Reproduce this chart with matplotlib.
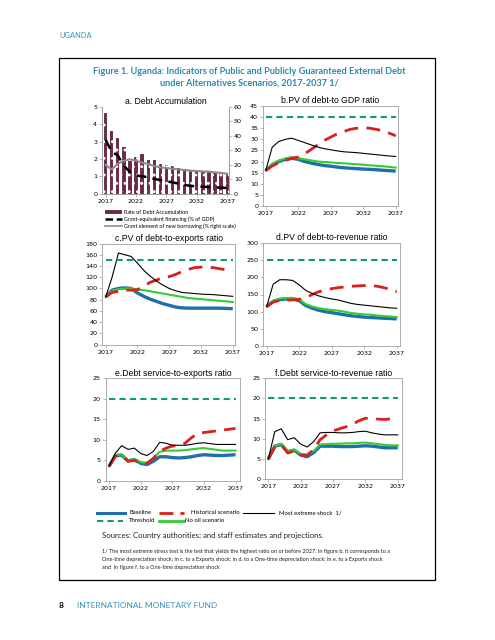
import matplotlib
matplotlib.use("Agg")
import matplotlib.pyplot as plt
import numpy as np
from matplotlib.patches import Rectangle

years = list(range(2017, 2038))

# a. Debt Accumulation
debt_accum = [4.66, 3.6, 3.2, 2.7, 1.9, 2.1, 2.3, 1.96, 1.92, 1.7, 1.65, 1.59, 1.5,
              1.4, 1.32, 1.28, 1.27, 1.27, 1.23, 1.18, 1.16]
grant_equiv = [3.1, 2.4, 2.2, 1.6, 1.25, 1.05, 1.0, 0.95, 0.85, 0.78, 0.72, 0.65, 0.58,
               0.5, 0.45, 0.42, 0.4, 0.38, 0.36, 0.35, 0.33]
grant_element = [19.8, 16.8, 20.5, 22.8, 23.7, 22.8, 21.4, 20.5, 19.0, 18.2, 17.7, 17.2,
                 16.8, 16.3, 15.9, 15.6, 15.4, 15.2, 14.7, 14.3, 13.8]

# b. PV of debt-to-GDP ratio
b_base = [16, 18.5, 20, 21, 21.5, 21, 20, 19.3, 18.7, 18.2, 17.9, 17.5, 17.2, 17, 16.8,
          16.6, 16.5, 16.3, 16.1, 15.9, 15.7]
b_nooil = [16, 19, 20.5, 21.3, 22, 21.5, 21, 20.5, 20, 19.8, 19.6, 19.4, 19.2, 19, 18.8,
           18.6, 18.3, 18.1, 17.9, 17.6, 17.3]
b_hist = [16, 18, 19.5, 20.5, 21.5, 22, 23.5, 25.5, 27.5, 29.5, 31, 32.5, 33.5, 34.5, 35,
          35.2, 35, 34.5, 33.8, 32.8, 31.6]
b_shock = [16, 26.5, 29, 30, 30.5, 29.5, 28.5, 27.5, 26.5, 25.8, 25.3, 24.8, 24.4, 24.2,
           24, 23.7, 23.4, 23.1, 22.8, 22.5, 22.3]
b_thr = 40

# c. PV of debt-to-exports ratio
c_base = [85, 97, 100, 101, 100, 92, 86, 81, 77, 73, 70, 67, 65.5, 65, 65, 65, 65, 65, 65,
          64.5, 64]
c_nooil = [85, 96, 99, 100, 100, 98, 97, 95, 93, 91, 89, 87, 85, 83, 82, 81, 80, 79, 78, 77, 76]
c_hist = [85, 93, 95, 97, 97, 98, 104, 111, 115, 119, 121, 125, 130, 134, 137, 138, 138,
          137, 135, 133, 131]
c_shock = [85, 120, 163, 160, 157, 145, 132, 122, 113, 106, 100, 96, 93, 92, 91, 90, 89.5,
           89, 88, 87, 86]
c_thr = 150

# d. PV of debt-to-revenue ratio
d_base = [115, 130, 135, 137, 137, 132, 118, 110, 104, 100, 97, 94, 91, 88, 86, 84, 83, 82,
          81, 80, 79]
d_nooil = [115, 132, 138, 140, 140, 136, 122, 115, 110, 107, 105, 103, 100, 96, 94, 92, 91,
           89, 87, 86, 84]
d_hist = [115, 128, 133, 134, 134, 136, 140, 150, 158, 163, 167, 170, 172, 174, 175, 176,
          176, 174, 170, 165, 158]
d_shock = [115, 180, 193, 193, 191, 178, 162, 153, 146, 141, 137, 134, 129, 124, 121, 119,
           117, 115, 113, 111, 110]
d_thr = 250

# e. Debt service-to-exports ratio
e_base = [3.6, 6.2, 6.3, 4.9, 5.2, 4.3, 4.0, 4.8, 5.9, 5.9, 5.7, 5.6, 5.7, 5.9, 6.2, 6.4,
          6.3, 6.2, 6.2, 6.3, 6.4]
e_nooil = [3.6, 6.3, 6.5, 5.0, 5.4, 4.6, 4.4, 5.6, 7.1, 7.4, 7.4, 7.4, 7.5, 7.7, 7.9, 8.0,
           7.8, 7.6, 7.4, 7.4, 7.4]
e_hist = [3.6, 6.0, 6.2, 4.8, 5.0, 4.3, 4.3, 5.5, 7.2, 8.0, 8.5, 8.7, 9.2, 10.5, 11.6,
          11.8, 12.0, 12.2, 12.4, 12.6, 12.8]
e_shock = [3.6, 6.8, 8.6, 7.7, 8.0, 6.7, 6.2, 7.2, 9.4, 9.2, 8.7, 8.7, 8.7, 8.9, 9.2, 9.3,
           9.1, 8.9, 8.9, 8.9, 8.9]
e_thr = 20

# f. Debt service-to-revenue ratio
f_base = [5.0, 8.2, 8.6, 6.8, 7.2, 6.0, 5.6, 6.6, 8.2, 8.2, 8.2, 8.1, 8.1, 8.1, 8.2, 8.3,
          8.2, 8.0, 7.8, 7.8, 7.8]
f_nooil = [5.0, 8.3, 8.8, 7.0, 7.4, 6.3, 6.0, 7.0, 8.6, 8.7, 8.8, 8.8, 8.9, 8.9, 9.0, 9.1,
           8.9, 8.7, 8.5, 8.4, 8.4]
f_hist = [5.0, 8.0, 8.5, 6.5, 7.0, 6.0, 6.0, 7.3, 9.8, 11.0, 12.0, 12.5, 13.0, 13.6, 14.5,
          15.1, 15.0, 14.9, 14.8, 15.0, 15.2]
f_shock = [5.0, 11.8, 12.5, 9.8, 10.3, 8.7, 8.0, 9.3, 11.5, 11.6, 11.6, 11.5, 11.5, 11.6,
           11.8, 11.9, 11.5, 11.2, 11.0, 11.0, 11.0]
f_thr = 20

xticks = [2017, 2022, 2027, 2032, 2037]

BLUE = '#1f6fa8'
GREEN = '#33cc33'
RED = '#d9201c'
TEAL = '#149a6e'
IMF = '#3a93bd'
GRID = '#a0a0a0'
MAROON = '#6b2a48'
W, H = 495, 640

plt.rcParams['hatch.linewidth'] = 0.9
fig = plt.figure(figsize=(4.95, 6.4), dpi=100)


def rect(l, t, r, b):
    return [l / W, 1 - b / H, (r - l) / W, (b - t) / H]


def style(ax):
    for s in ax.spines.values():
        s.set_color(GRID)
        s.set_linewidth(0.6)
    ax.tick_params(labelsize=4.6, length=2, width=0.5, color=GRID, pad=1.5)
    ax.set_xticks(xticks)


def panel(pos, title, xl, ymax, ystep, base, nooil, hist, shock, thr):
    ax = fig.add_axes(rect(*pos))
    ax.plot(years, base, color=BLUE, lw=2.4, solid_capstyle='butt')
    ax.plot(years, nooil, color=GREEN, lw=1.5)
    ax.plot(years, hist, color=RED, lw=2.0, dashes=(5, 3))
    ax.plot(years, shock, color='black', lw=0.8)
    ax.plot(years, [thr] * len(years), color=TEAL, lw=1.5, dashes=(3, 2))
    ax.set_xlim(*xl)
    ax.set_ylim(0, ymax)
    ax.set_yticks(np.arange(0, ymax + 0.1, ystep))
    style(ax)
    ax.set_title(title, fontsize=6.2, family='Liberation Sans', pad=2)
    return ax


# panel a
axa = fig.add_axes(rect(102, 106.7, 229, 193.7))
axa.bar(years, debt_accum, width=0.55, color=MAROON, lw=0, zorder=1)
axa.bar(years, debt_accum, width=0.55, facecolor='none', edgecolor='white', hatch='..',
        lw=0.05, zorder=2)
axa.plot(years, grant_equiv, color='black', lw=1.8, dashes=(4, 2.5), zorder=4)
axa.set_ylim(0, 5)
axa.set_xlim(2016.4, 2037.3)
style(axa)
axa.spines['top'].set_visible(False)
axr = axa.twinx()
axr.plot(years, grant_element, color='#8c8c8c', lw=1.5, zorder=3)
axr.set_ylim(0, 60)
axr.set_yticks(range(0, 61, 10))
style(axr)
axr.spines['top'].set_visible(False)
axa.set_title('a. Debt Accumulation', fontsize=6.2, family='Liberation Sans', pad=2)

# legend of panel a
leg_y = [212, 219, 226]
fig.patches.append(Rectangle((105 / W, 1 - 214 / H), 17 / W, 4 / H, transform=fig.transFigure,
                             facecolor=MAROON, lw=0))
fig.patches.append(Rectangle((105 / W, 1 - 214 / H), 17 / W, 4 / H, transform=fig.transFigure,
                             facecolor='none', edgecolor='white', hatch='..', lw=0.05))
fig.lines.append(plt.Line2D([105 / W, 122 / W], [1 - leg_y[1] / H] * 2, color='black', lw=1.8,
                            dashes=(3, 1.5), transform=fig.transFigure))
fig.lines.append(plt.Line2D([105 / W, 122 / W], [1 - leg_y[2] / H] * 2, color='#8c8c8c', lw=1.2,
                            transform=fig.transFigure))
leg_txt = ['Rate of Debt Accumulation', 'Grant-equivalent financing (% of GDP)',
           'Grant element of new borrowing (% right scale)']
for y, t in zip(leg_y, leg_txt):
    fig.text(124 / W, 1 - y / H, t, fontsize=3.9, va='center', family='Lato')

panel((263, 106, 398, 206), 'b.PV of debt-to GDP ratio', (2016.58, 2037.35), 45, 5,
      b_base, b_nooil, b_hist, b_shock, b_thr)
panel((102.3, 243.5, 235.3, 344.7), 'c.PV of debt-to-exports ratio', (2016.46, 2037.4), 180, 20,
      c_base, c_nooil, c_hist, c_shock, c_thr)
panel((263.3, 243, 400, 346), 'd.PV of debt-to-revenue ratio', (2016.48, 2037.5), 300, 50,
      d_base, d_nooil, d_hist, d_shock, d_thr)
panel((105.7, 378.3, 240, 481), 'e.Debt service-to-exports ratio', (2016.47, 2037.7), 25, 5,
      e_base, e_nooil, e_hist, e_shock, e_thr)
panel((265, 378.3, 402.3, 479.3), 'f.Debt service-to-revenue ratio', (2016.49, 2037.7), 25, 5,
      f_base, f_nooil, f_hist, f_shock, f_thr)


# bottom legend
def leg(x0, x1, y, label, tx, **kw):
    fig.lines.append(plt.Line2D([x0 / W, x1 / W], [1 - y / H] * 2, transform=fig.transFigure, **kw))
    fig.text(tx / W, 1 - y / H, label, fontsize=4.3, va='center', family='Lato')


leg(97, 125, 513, 'Baseline', 129, color=BLUE, lw=2.2)
leg(159, 184, 513, 'Historical scenario', 191, color=RED, lw=2.0, dashes=(5, 2.5))
leg(243, 274, 513, 'Most extreme shock  1/', 279, color='black', lw=0.8)
leg(97, 123, 521, 'Threshold', 129, color=TEAL, lw=1.5, dashes=(3, 2))
leg(159, 184, 521, 'No oil scenario', 185, color=GREEN, lw=2.0)

fig.text(102 / W, 1 - 535 / H, 'Sources: Country authorities; and staff estimates and projections.',
         fontsize=5.6, va='center', family='Lato', color='#222222')
notes = ['1/ The most extreme stress test is the test that yields the highest ratio on or before 2027. '
         'In figure b. it corresponds to a',
         'One-time depreciation shock; in c. to a Exports shock; in d. to a One-time depreciation '
         'shock; in e. to a Exports shock',
         'and  in figure f. to a One-time depreciation shock']
for i, t in enumerate(notes):
    fig.text(102 / W, 1 - (551 + 8 * i) / H, t, fontsize=4.0, va='center', family='Lato',
             color='#222222')

# frame and page text
fig.patches.append(Rectangle((59 / W, 1 - 580 / H), 376 / W, 522 / H, transform=fig.transFigure,
                             fill=False, edgecolor='black', lw=0.9))
fig.text(249 / W, 1 - 71 / H,
         'Figure 1. Uganda: Indicators of Public and Publicly Guaranteed External Debt',
         ha='center', va='center', fontsize=6.6, weight='bold', color='#2b88b0', family='Lato')
fig.text(249 / W, 1 - 83 / H, 'under Alternatives Scenarios, 2017-2037 1/',
         ha='center', va='center', fontsize=6.6, weight='bold', color='#2b88b0', family='Lato')
fig.text(59 / W, 1 - 36 / H, 'UGANDA', fontsize=5.4, va='center', color=IMF, family='Lato')
fig.text(59 / W, 1 - 606 / H, '8', fontsize=6, va='center', weight='bold', family='Lato')
fig.text(77 / W, 1 - 606 / H, 'INTERNATIONAL MONETARY FUND', fontsize=6, va='center', color=IMF,
         family='Lato')

fig.savefig('out.png', dpi=100)
